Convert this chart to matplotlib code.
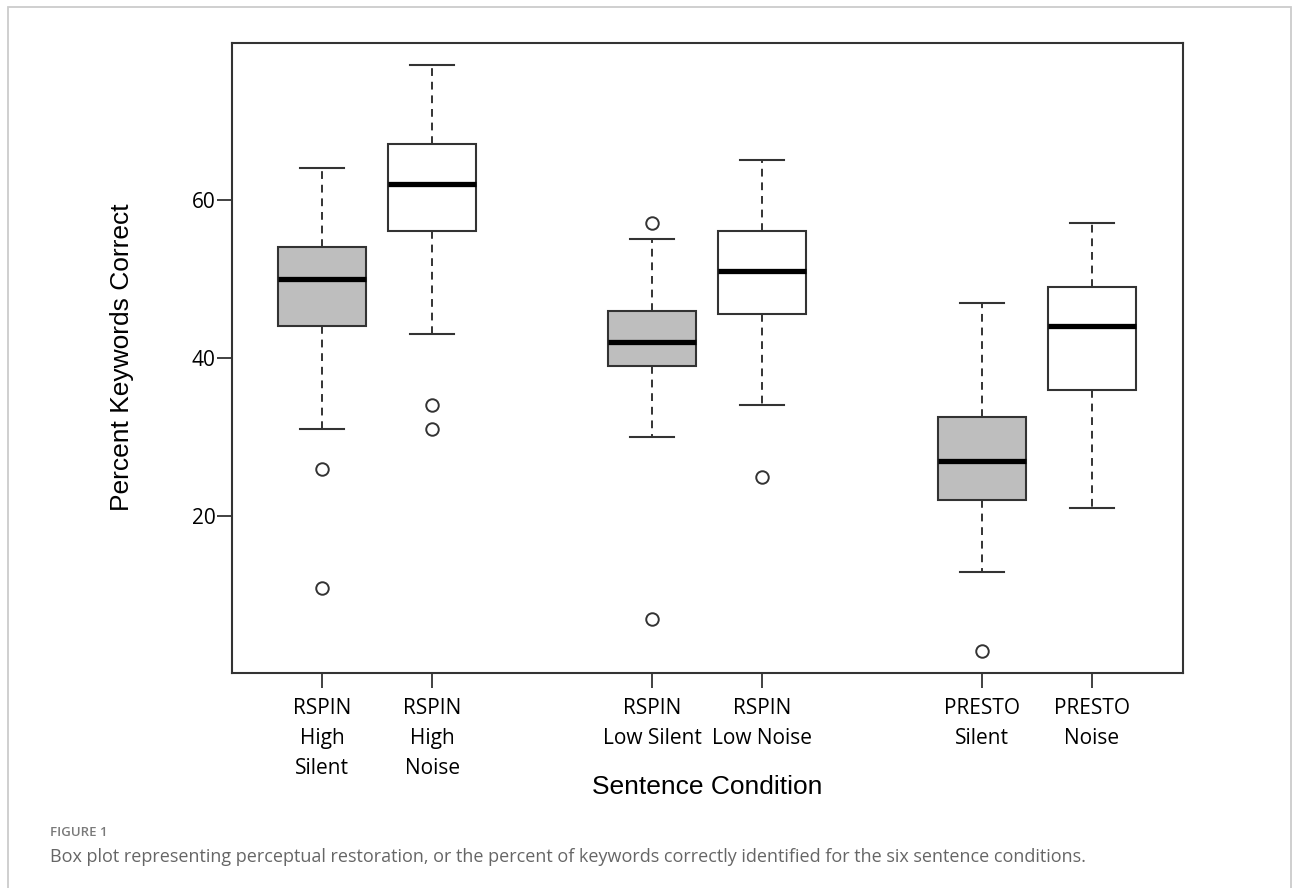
import matplotlib.pyplot as plt
from matplotlib.patches import Rectangle

# sentence conditions and box statistics
labels = ["RSPIN\nHigh\nSilent", "RSPIN\nHigh\nNoise", "RSPIN\nLow Silent",
          "RSPIN\nLow Noise", "PRESTO\nSilent", "PRESTO\nNoise"]
positions = [1, 2, 4, 5, 7, 8]
whis_lo = [31, 43, 30, 34, 13, 21]
q1 = [44, 56, 39, 45.5, 22, 36]
median = [50, 62, 42, 51, 27, 44]
q3 = [54, 67, 46, 56, 32.5, 49]
whis_hi = [64, 77, 55, 65, 47, 57]
outliers = [[26, 11], [34, 31], [57, 7], [25], [3], []]
fills = ["#bebebe", "white", "#bebebe", "white", "#bebebe", "white"]

stats = []
for i in range(len(labels)):
    stats.append(dict(med=median[i], q1=q1[i], q3=q3[i], whislo=whis_lo[i],
                      whishi=whis_hi[i], fliers=outliers[i], label=labels[i]))

dark = "#333333"
fig = plt.figure(figsize=(12.93, 8.88), dpi=100)
ax = fig.add_axes([232 / 1293, 1 - 673 / 888, (1183 - 232) / 1293, (673 - 43) / 888])

bp = ax.bxp(stats, positions=positions, widths=0.8, capwidths=0.4, patch_artist=True,
            boxprops=dict(edgecolor=dark, linewidth=1.5),
            whiskerprops=dict(color=dark, linewidth=1.4, linestyle=(0, (4, 3))),
            capprops=dict(color=dark, linewidth=1.5),
            medianprops=dict(color="black", linewidth=3.8, solid_capstyle="butt"),
            flierprops=dict(marker="o", markerfacecolor="none", markeredgecolor=dark,
                            markersize=9, markeredgewidth=1.4))
for patch, c in zip(bp["boxes"], fills):
    patch.set_facecolor(c)

ax.set_xlim(0.18, 8.83)
ax.set_ylim(0.2, 79.8)
ax.set_yticks([20, 40, 60])
ax.set_xticks(positions)
ax.set_xticklabels(labels, fontfamily="Open Sans", fontsize=15, linespacing=1.55)
for lab in ax.get_yticklabels():
    lab.set_fontfamily("Open Sans")
    lab.set_fontsize(15)
ax.tick_params(axis="y", length=11, width=1.3, color=dark, pad=1)
ax.tick_params(axis="x", length=11, width=1.3, color=dark, pad=7)
for s in ax.spines.values():
    s.set_color(dark)
    s.set_linewidth(1.5)

fig.text(122 / 1293, 1 - 357 / 888, "Percent Keywords Correct", rotation=90,
         ha="center", va="center", fontsize=19, fontfamily="Liberation Sans")
fig.text(707 / 1293, 1 - 787 / 888, "Sentence Condition", ha="center", va="center",
         fontsize=19, fontfamily="Liberation Sans")

fig.text(50 / 1293, 1 - 832 / 888, "FIGURE 1", ha="left", va="center",
         fontsize=9.5, fontweight="semibold", color="#7a7a7a", fontfamily="Open Sans")
fig.text(50 / 1293, 1 - 857 / 888,
         "Box plot representing perceptual restoration, or the percent of keywords "
         "correctly identified for the six sentence conditions.",
         ha="left", va="center", fontsize=13, color="#666666", fontfamily="Open Sans")

fig.patches.append(Rectangle((7.5 / 1293, -0.05), (1291 - 7.5) / 1293, 1.05 - 7.5 / 888,
                             transform=fig.transFigure, fill=False,
                             edgecolor="#cccccc", linewidth=1.3))

fig.savefig("out.png", dpi=100)
